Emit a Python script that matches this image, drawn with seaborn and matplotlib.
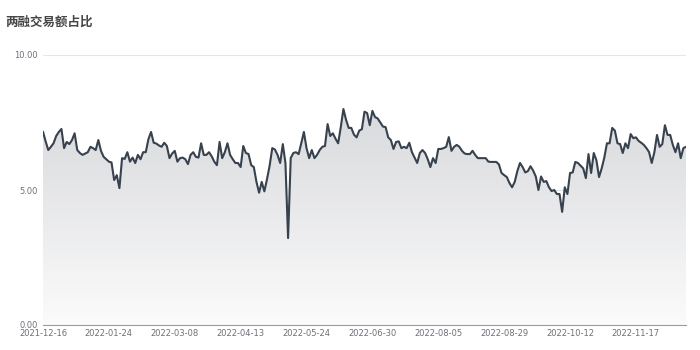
import numpy as np
import pandas as pd
import matplotlib
matplotlib.use("Agg")
import matplotlib.pyplot as plt
import seaborn as sns
from matplotlib.colors import LinearSegmentedColormap

title = "两融交易额占比"
tick_labels = ["2021-12-16", "2022-01-24", "2022-03-08", "2022-04-13", "2022-05-24",
               "2022-06-30", "2022-08-05", "2022-08-29", "2022-10-12", "2022-11-17"]
tick_step = 25
y_ticks = [0, 5, 10]

values = [
    7.16, 6.80, 6.48, 6.60, 6.73, 7.00, 7.15, 7.26, 6.55, 6.78,
    6.70, 6.85, 7.10, 6.48, 6.37, 6.30, 6.35, 6.40, 6.60, 6.55,
    6.48, 6.85, 6.45, 6.23, 6.14, 6.05, 6.02, 5.37, 5.55, 5.07,
    6.18, 6.15, 6.40, 6.05, 6.20, 6.00, 6.30, 6.14, 6.40, 6.40,
    6.88, 7.15, 6.75, 6.72, 6.65, 6.60, 6.75, 6.63, 6.18, 6.35,
    6.45, 6.05, 6.18, 6.20, 6.14, 5.96, 6.30, 6.40, 6.23, 6.20,
    6.73, 6.30, 6.30, 6.40, 6.25, 6.05, 5.92, 6.78, 6.18, 6.40,
    6.73, 6.30, 6.14, 6.00, 6.00, 5.85, 6.63, 6.37, 6.33, 5.92,
    5.85, 5.30, 4.90, 5.30, 4.95, 5.40, 5.90, 6.55, 6.50, 6.30,
    6.00, 6.70, 6.00, 3.22, 6.18, 6.37, 6.40, 6.33, 6.73, 7.15,
    6.55, 6.18, 6.48, 6.18, 6.30, 6.48, 6.60, 6.63, 7.44, 7.00,
    7.10, 6.90, 6.73, 7.33, 8.00, 7.60, 7.30, 7.30, 7.05, 6.95,
    7.20, 7.25, 7.90, 7.85, 7.40, 7.93, 7.70, 7.65, 7.50, 7.35,
    7.33, 6.95, 6.85, 6.52, 6.78, 6.80, 6.55, 6.60, 6.55, 6.75,
    6.40, 6.20, 6.00, 6.37, 6.48, 6.37, 6.14, 5.85, 6.18, 6.00,
    6.52, 6.52, 6.55, 6.60, 6.96, 6.45, 6.60, 6.67, 6.60, 6.45,
    6.35, 6.33, 6.33, 6.45, 6.30, 6.18, 6.18, 6.18, 6.18, 6.05,
    6.04, 6.04, 6.04, 5.95, 5.63, 5.55, 5.48, 5.26, 5.10, 5.30,
    5.70, 6.00, 5.85, 5.65, 5.70, 5.88, 5.72, 5.50, 5.00, 5.50,
    5.30, 5.33, 5.10, 4.96, 5.00, 4.85, 4.85, 4.19, 5.10, 4.85,
    5.63, 5.65, 6.04, 6.00, 5.90, 5.80, 5.44, 6.33, 5.63, 6.37,
    6.10, 5.48, 5.80, 6.20, 6.73, 6.73, 7.30, 7.20, 6.73, 6.70,
    6.37, 6.73, 6.55, 7.07, 6.92, 6.95, 6.82, 6.75, 6.67, 6.55,
    6.40, 6.00, 6.40, 7.04, 6.60, 6.70, 7.40, 7.04, 7.04, 6.67,
    6.40, 6.73, 6.18, 6.55, 6.60,
]

df = pd.DataFrame({"idx": np.arange(len(values)), "value": values})

sns.set_theme(style="white")
plt.rcParams["font.family"] = ["DejaVu Sans", "Noto Sans CJK SC"]

fig = plt.figure(figsize=(7, 3.5), dpi=100)
ax = fig.add_axes([43 / 700, 1 - 325 / 350, (686 - 43) / 700, (325 - 55) / 350])

n = len(values)
ax.set_xlim(0, n - 1)
ax.set_ylim(0, 10)

# gradient area under the line
cmap = LinearSegmentedColormap.from_list("g", ["#fbfbfb", "#d9dadd"])
grad = np.linspace(0, 1, 256).reshape(-1, 1)
im = ax.imshow(grad, extent=[0, n - 1, 0, 8.0], origin="lower", aspect="auto",
               cmap=cmap, zorder=1)
poly = ax.fill_between(df["idx"], df["value"], 0, color="none", lw=0)
path = poly.get_paths()[0]
im.set_clip_path(path, transform=ax.transData)

sns.lineplot(data=df, x="idx", y="value", ax=ax, color="#38424e", linewidth=1.5,
             zorder=3)

# grid lines
for yv in y_ticks[1:]:
    ax.axhline(yv, color="#e0e6f1", lw=0.8, zorder=0)

for s in ["top", "right", "left"]:
    ax.spines[s].set_visible(False)
ax.spines["bottom"].set_color("#9a9ca3")
ax.spines["bottom"].set_linewidth(0.8)
ax.spines["bottom"].set_zorder(4)

ax.set_yticks(y_ticks)
ax.set_yticklabels([f"{v:.2f}" for v in y_ticks])
ax.set_xticks([i * tick_step for i in range(len(tick_labels))])
ax.set_xticklabels(tick_labels)
ax.tick_params(axis="both", length=0, labelsize=6, colors="#6e7079")
ax.tick_params(axis="y", pad=4)
ax.tick_params(axis="x", pad=3)
ax.set_xlabel("")
ax.set_ylabel("")
ax.grid(False)

fig.text(5 / 700, 1 - 22 / 350, title, ha="left", va="center", fontsize=9,
         fontweight="bold", color="#464646", family=["Noto Sans CJK SC", "DejaVu Sans"])

fig.savefig("out.png", dpi=100, facecolor="white")
